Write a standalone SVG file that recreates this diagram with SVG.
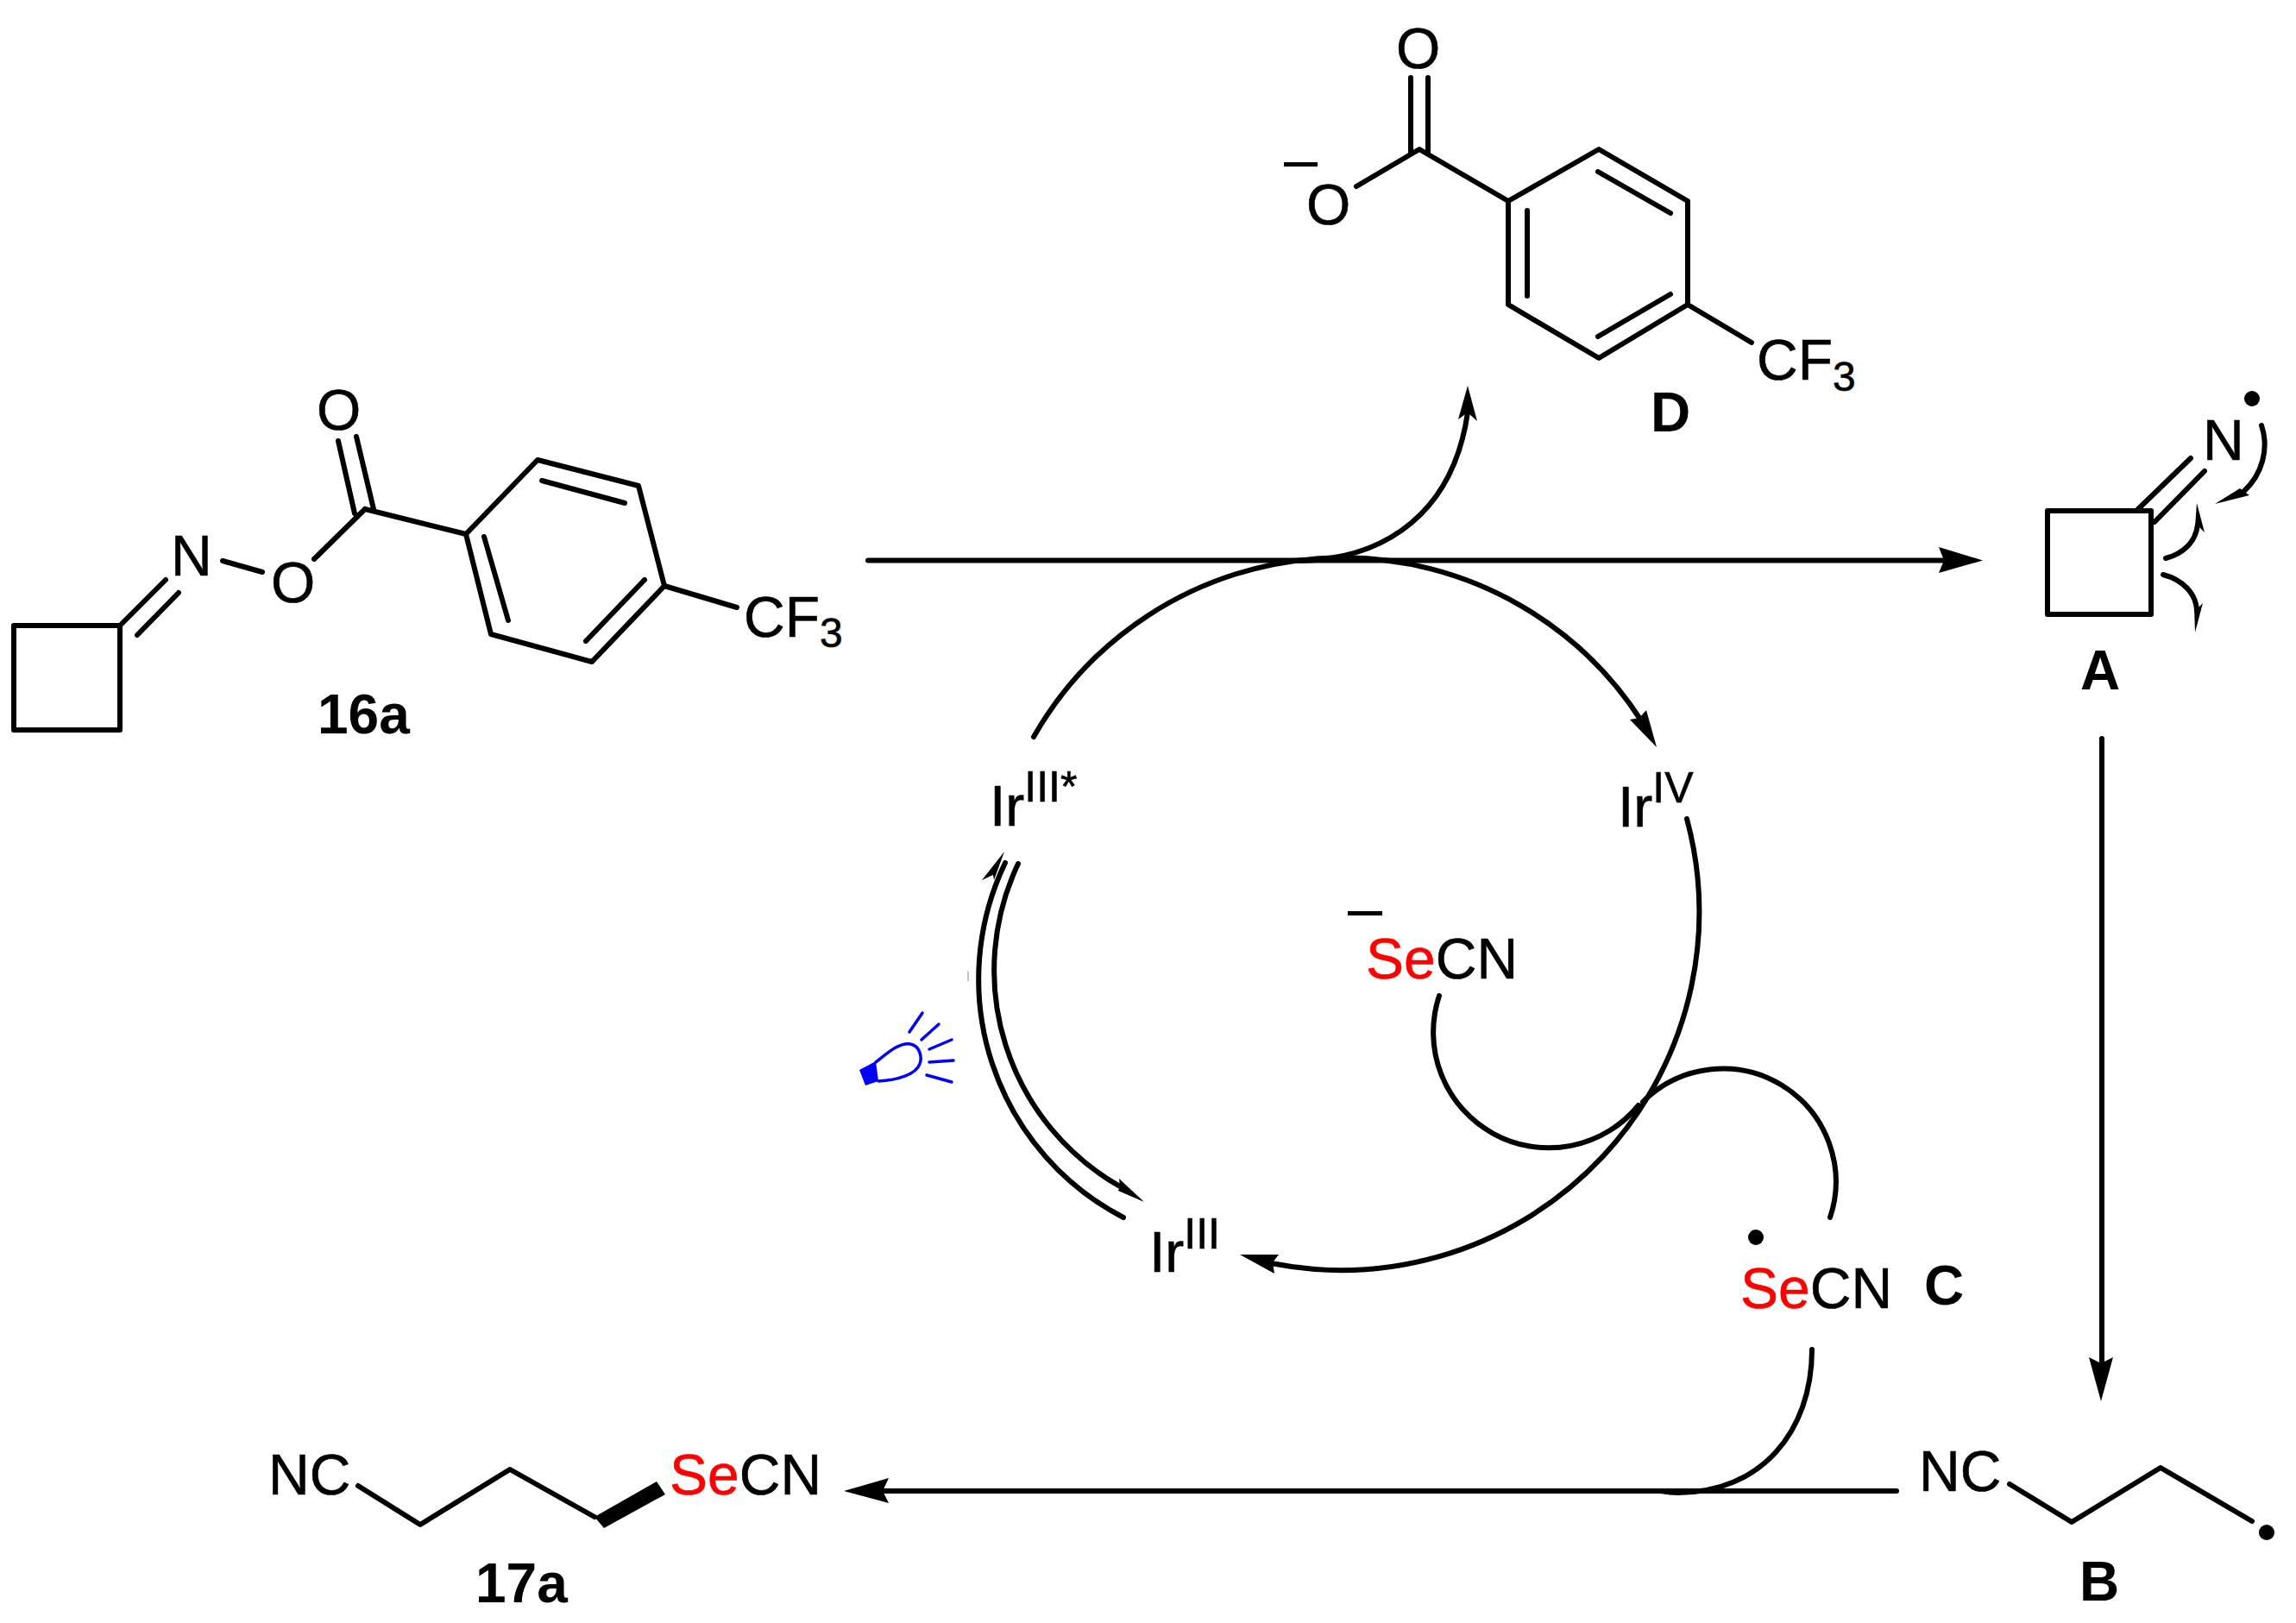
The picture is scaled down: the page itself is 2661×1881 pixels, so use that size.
<svg xmlns="http://www.w3.org/2000/svg" width="2661" height="1881" viewBox="0 0 2661 1881">
<style>
text{font-family:"Liberation Sans",Arial,sans-serif;font-size:66px;fill:#000;stroke:#000;stroke-width:.6}
.b{font-weight:bold;font-size:64px;stroke:none}
.sup{font-size:50px}
.sub{font-size:48px}
.red{fill:#f00;stroke:#f00}
.bond{fill:none;stroke:#000;stroke-width:6;stroke-linecap:round;stroke-linejoin:round}
.conn{fill:none;stroke:#000;stroke-width:6;stroke-linecap:round}
.head{fill:#000;stroke:none}
.dot{fill:#000}
.blue{fill:none;stroke:#00f;stroke-width:3.500;stroke-linecap:round;stroke-linejoin:round}
</style>
<rect width="2661" height="1881" fill="#fff"/>
<g id="connectors">
<path class="conn" d="M1006,649.500H2255"/>
<polygon class="head" points="2298,649.500 2247,634 2253,649.500 2247,664"/>
<path class="conn" d="M1500,650C1610,650 1685,590 1701,478"/>
<polygon class="head" points="1701,447 1690,486 1701,478 1712,488"/>
<path class="conn" d="M1198,854A412,412 0 0 1 1902,835"/>
<polygon class="head" points="1920,866 1889,834 1900,832 1908,823"/>
<path class="conn" d="M1955,949A415,415 0 0 1 1473,1464"/>
<polygon class="head" points="1437,1454 1482,1454 1475,1463 1477,1476"/>
<path class="conn" d="M1668,1154A134,134 0 0 0 1899,1281"/>
<path class="conn" d="M1904,1277A131,131 0 0 1 2121,1411"/>
<path class="conn" d="M1165,1000A311,311 0 0 0 1302,1411"/>
<polygon class="head" points="1164,987 1138,1020 1151,1014 1152,1020"/>
<path class="conn" d="M1180,1001A288,288 0 0 0 1298,1375"/>
<polygon class="head" points="1326,1393 1297,1366 1298,1375 1296,1380"/>
<path d="M1122,1126V1137" fill="none" stroke="#888" stroke-width="1"/>
<path class="conn" d="M2436,856V1585"/>
<polygon class="head" points="2435,1624 2421,1573 2435,1580 2449,1573"/>
<path class="conn" d="M2198,1728H1025"/>
<polygon class="head" points="978,1728 1030,1713 1023,1728 1030,1742"/>
<path class="conn" d="M2100,1564C2100,1660 2040,1730 1945,1730C1938,1730 1930,1729 1925,1728"/>
<g id="curly-arrows">
<path class="conn" d="M2621,493C2630,520 2622,550 2600,570"/>
<polygon class="head" points="2567,584 2596,566 2607,574"/>
<path class="conn" d="M2510,647C2530,642 2545,628 2547,608"/>
<polygon class="head" points="2546,583 2555,617 2547,609 2544,611"/>
<path class="conn" d="M2507,666C2530,672 2545,688 2546,707"/>
<polygon class="head" points="2544,733 2553,699 2547,705 2543,703"/>
</g>
</g>
<g id="n16a">
<path class="bond" d="M16,725H139V846H16Z"/>
<path class="bond" d="M139,725L192,672M159,736L207,687"/>
<path class="bond" d="M258,650L304,663M364,648L423,590M392,511L411,595M413,506L433,590M423,590L540,619"/>
<path class="bond" d="M540,619L623,533L740,563L770,679L686,767L569,735Z"/>
<path class="bond" d="M628,557L724,583M561,622L589,719M747,672L679,743M770,679L854,704"/>
<text x="198" y="667">N</text>
<text x="314" y="698">O</text>
<text x="367" y="498">O</text>
<text x="862" y="738">CF<tspan class="sub" dy="12">3</tspan></text>
<text class="b" x="368" y="850">16a</text>
</g>
<g id="nD">
<path class="bond" d="M1635,90V177M1655,90V177M1572,216L1645,173L1748,233"/>
<path class="bond" d="M1748,233L1853,173L1956,233V353L1853,415L1748,353Z"/>
<path class="bond" d="M1852,199L1936,247M1770,244V343M1936,341L1852,390M1956,353L2030,397"/>
<text x="1618" y="79">O</text>
<text x="1514" y="260">O</text>
<rect x="1488" y="188" width="39" height="5"/>
<text x="2036" y="440">CF<tspan class="sub" dy="13">3</tspan></text>
<text class="b" x="1913" y="500">D</text>
</g>
<g id="nA">
<path class="bond" d="M2373,592H2493V712H2373Z"/>
<path class="bond" d="M2478,590L2539,531M2497,605L2555,546"/>
<text x="2553" y="533">N</text>
<circle class="dot" cx="2610" cy="462" r="9"/>
<text class="b" x="2411" y="799">A</text>
</g>
<g id="nB">
<text x="2224" y="1728">NC</text>
<path class="bond" d="M2329,1720L2401,1764L2504,1701L2610,1763"/>
<circle class="dot" cx="2627" cy="1776" r="9"/>
<text class="b" x="2410" y="1855">B</text>
</g>
<g id="nC">
<circle class="dot" cx="2035" cy="1434" r="9"/>
<text x="2017" y="1516"><tspan class="red">Se</tspan>CN</text>
<text class="b" x="2230" y="1512">C</text>
</g>
<g id="n17a">
<text x="311" y="1732">NC</text>
<path class="bond" d="M415,1722L487,1767L591,1703L689,1758"/>
<polygon class="head" points="689,1758 700,1771 771,1732 761,1717"/>
<text x="776" y="1732"><tspan class="red">Se</tspan>CN</text>
<text class="b" x="551" y="1857">17a</text>
</g>
<g id="n-secn-anion">
<rect x="1562" y="1056" width="40" height="5"/>
<text x="1583" y="1134"><tspan class="red">Se</tspan>CN</text>
</g>
<g id="n-irIIIstar"><text x="1147" y="957">Ir<tspan class="sup" dy="-28">III*</tspan></text></g>
<g id="n-irIV"><text x="1875" y="958">Ir<tspan class="sup" dy="-28">IV</tspan></text></g>
<g id="n-irIII"><text x="1332" y="1474">Ir<tspan class="sup" dy="-27">III</tspan></text></g>
<g id="n-lamp">
<polygon points="996,1240 1015,1230 1018,1253 1003,1258" fill="#00f"/>
<path class="blue" d="M1015,1231C1025,1224 1040,1208 1055,1210C1066,1212 1069,1225 1066,1233C1062,1245 1040,1252 1018,1253"/>
<path class="blue" d="M1054,1196L1069,1174M1068,1205L1088,1187M1077,1216L1103,1205M1077,1231L1105,1229M1074,1246L1103,1254"/>
</g>
</svg>
